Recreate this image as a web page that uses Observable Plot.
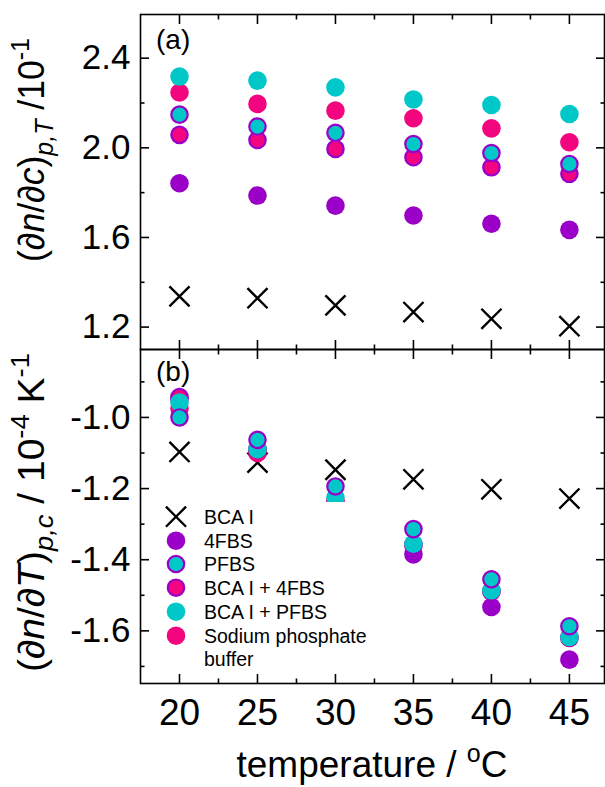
<!DOCTYPE html>
<html><head><meta charset="utf-8">
<script src="https://cdn.jsdelivr.net/npm/d3@7"></script>
<script src="https://cdn.jsdelivr.net/npm/@observablehq/plot@0.6"></script>
<style>
body{margin:0;background:#fff}
#chart{width:605px}
#chart svg{display:block;overflow:visible}
</style>
</head><body><div id="chart"></div>
<script>
const temperatures = [20, 25, 30, 35, 40, 45];
const seriesNames = ["BCA I", "4FBS", "PFBS", "BCA I + 4FBS", "BCA I + PFBS", "Sodium phosphate buffer"];
// panel (a): (dn/dc)_{p,T} / 10^-1
const aBCA = [1.337, 1.329, 1.297, 1.267, 1.237, 1.204];
const a4FBS = [1.842, 1.787, 1.742, 1.698, 1.661, 1.634];
const aPFBS = [2.148, 2.095, 2.067, 2.017, 1.977, 1.928];
const aBCA4FBS = [2.058, 2.035, 1.995, 1.958, 1.913, 1.884];
const aBCAPFBS = [2.318, 2.300, 2.270, 2.216, 2.191, 2.151];
const aBuffer = [2.247, 2.196, 2.166, 2.132, 2.087, 2.025];
// panel (b): (dn/dT)_{p,c} / 10^-4 K^-1
const bBCA = [-1.097, -1.127, -1.147, -1.174, -1.202, -1.228];
const b4FBS = [-0.948, -1.090, -1.260, -1.385, -1.533, -1.681];
const bPFBS = [-1.000, -1.063, -1.194, -1.314, -1.455, -1.587];
const bBCA4FBS = [-0.943, -1.088, -1.240, -1.357, -1.488, -1.619];
const bBCAPFBS = [-0.958, -1.089, -1.225, -1.355, -1.486, -1.617];
const bBuffer = [-0.975, -1.100, -1.235, -1.360, -1.490, -1.620];

const xTicks = [20, 25, 30, 35, 40, 45];
const xMinor = [22.5, 27.5, 32.5, 37.5, 42.5];
const aTicks = [1.2, 1.6, 2.0, 2.4];
const aMinor = [1.4, 1.8, 2.2];
const bTicks = [-1.0, -1.2, -1.4, -1.6];
const bMinor = [-0.9, -1.1, -1.3, -1.5, -1.7];

const PURPLE = "#9a00c8", CYAN = "#00c8c8", PINK = "#f2057f";
const FONT = "'Liberation Sans', Arial, Helvetica, sans-serif";

const styles = {
  "BCA I": {symbol: "times", r: 9.2, fill: "none", stroke: "#000", strokeWidth: 2.4},
  "4FBS": {symbol: "circle", r: 9.3, fill: PURPLE, stroke: "none", strokeWidth: 0},
  "PFBS": {symbol: "circle", r: 8.2, fill: CYAN, stroke: PURPLE, strokeWidth: 2.2},
  "BCA I + 4FBS": {symbol: "circle", r: 8.2, fill: PINK, stroke: PURPLE, strokeWidth: 2.2},
  "BCA I + PFBS": {symbol: "circle", r: 9.3, fill: CYAN, stroke: "none", strokeWidth: 0},
  "Sodium phosphate buffer": {symbol: "circle", r: 9.3, fill: PINK, stroke: "none", strokeWidth: 0}
};
const drawOrder = ["BCA I", "Sodium phosphate buffer", "4FBS", "BCA I + 4FBS", "BCA I + PFBS", "PFBS"];

function table(arrs) {
  const rows = [];
  seriesNames.forEach((s, k) => temperatures.forEach((t, i) => rows.push({series: s, t, v: arrs[k][i]})));
  return rows;
}
const dataA = table([aBCA, a4FBS, aPFBS, aBCA4FBS, aBCAPFBS, aBuffer]);
const dataB = table([bBCA, b4FBS, bPFBS, bBCA4FBS, bBCAPFBS, bBuffer]);

function panel({data, yDomain, yTicks, yMinor, height, marginTop, marginBottom, xLabels}) {
  const blank = () => "";
  const marks = [
    Plot.axisY(yTicks, {anchor: "left", tickSize: 0, tickPadding: 10, fontSize: 35, fill: "#000", tickFormat: d => d.toFixed(1), label: null}),
    Plot.axisY(yTicks, {anchor: "left", tickSize: -9, strokeWidth: 1.6, tickFormat: blank, label: null}),
    Plot.axisY(yMinor, {anchor: "left", tickSize: -4.5, strokeWidth: 1.6, tickFormat: blank, label: null}),
    Plot.axisY(yTicks, {anchor: "right", tickSize: -9, strokeWidth: 1.6, tickFormat: blank, label: null}),
    Plot.axisY(yMinor, {anchor: "right", tickSize: -4.5, strokeWidth: 1.6, tickFormat: blank, label: null}),
    Plot.axisX(xTicks, {anchor: "top", tickSize: -9, strokeWidth: 1.6, tickFormat: blank, label: null}),
    Plot.axisX(xMinor, {anchor: "top", tickSize: -4.5, strokeWidth: 1.6, tickFormat: blank, label: null}),
    Plot.axisX(xTicks, {anchor: "bottom", tickSize: -9, strokeWidth: 1.6, tickFormat: blank, label: null}),
    Plot.axisX(xMinor, {anchor: "bottom", tickSize: -4.5, strokeWidth: 1.6, tickFormat: blank, label: null})
  ];
  if (xLabels) marks.push(Plot.axisX(xTicks, {anchor: "bottom", tickSize: 0, tickPadding: 15, fontSize: 37, fill: "#000", tickFormat: d => String(d), label: null}));
  for (const s of drawOrder) {
    marks.push(Plot.dot(data.filter(d => d.series === s), {x: "t", y: "v", ...styles[s]}));
  }
  marks.push(Plot.frame({stroke: "#000", strokeWidth: 1.6}));
  return Plot.plot({
    width: 605, height, marginLeft: 140, marginRight: 1, marginTop, marginBottom,
    style: {fontFamily: FONT, background: "transparent", color: "#000", overflow: "visible"},
    x: {domain: [17.5, 47.25]},
    y: {domain: yDomain},
    marks
  });
}

const plotA = panel({data: dataA, yDomain: [1.1, 2.595], yTicks: aTicks, yMinor: aMinor, height: 349, marginTop: 14, marginBottom: 0, xLabels: false});
const plotB = panel({data: dataB, yDomain: [-1.748, -0.809], yTicks: bTicks, yMinor: bMinor, height: 438, marginTop: 0, marginBottom: 104, xLabels: true});
document.getElementById("chart").append(plotA, plotB);

function addText(svg, html, attrs) {
  const t = d3.select(svg).append("text").attr("font-family", FONT).attr("fill", "#000").attr("text-anchor", "start");
  for (const k in attrs) t.attr(k, attrs[k]);
  t.html(html);
  return t;
}
// rotated y-axis title fitted to a given vertical span
function yTitle(svg, html, x, y0, y1) {
  const t = addText(svg, html, {"text-anchor": "middle", "font-size": 37});
  const len = t.node().getComputedTextLength() || 1;
  const s = (y1 - y0) / len;
  t.attr("transform", `translate(${x},${(y0 + y1) / 2}) rotate(-90) scale(${s},1)`);
}
addText(plotA, "(a)", {x: 156, y: 49, "font-size": 28});
addText(plotB, "(b)", {x: 156, y: 32, "font-size": 28});

yTitle(plotA,
  '(∂<tspan font-style="italic">n</tspan>/∂<tspan font-style="italic">c</tspan>)' +
  '<tspan font-style="italic" font-size="26" dy="9">p,T</tspan><tspan dy="-9"> /10</tspan>' +
  '<tspan font-size="26" dy="-15">-1</tspan>', 44, 38, 262);

yTitle(plotB,
  '(∂<tspan font-style="italic">n</tspan>/∂<tspan font-style="italic">T</tspan>)' +
  '<tspan font-style="italic" font-size="26" dy="9">p,c</tspan><tspan dy="-9"> / 10</tspan>' +
  '<tspan font-size="26" dy="-15">-4</tspan><tspan dy="15"> K</tspan>' +
  '<tspan font-size="26" dy="-15">-1</tspan>', 44, 353 - 349, 672 - 349);

addText(plotB, 'temperature / <tspan font-size="25" dy="-15">o</tspan><tspan dy="15">C</tspan>',
  {x: 372, y: 428, "text-anchor": "middle", "font-size": 37});

// legend (inside panel b)
const lg = d3.select(plotB).append("g").attr("font-family", FONT).attr("text-anchor", "start");
lg.append("rect").attr("x", 152).attr("y", 153).attr("width", 222).attr("height", 170).attr("fill", "#fff");
const legendRows = [
  ["BCA I", 167.7], ["4FBS", 191.7], ["PFBS", 215], ["BCA I + 4FBS", 238.7], ["BCA I + PFBS", 262.7], ["Sodium phosphate buffer", 286.7]
];
for (const [s, y] of legendRows) {
  const st = styles[s];
  const sym = st.symbol === "times" ? d3.symbolTimes : d3.symbolCircle;
  lg.append("path")
    .attr("transform", `translate(176,${y})`)
    .attr("d", d3.symbol(sym, st.r * st.r * Math.PI)())
    .attr("fill", st.fill).attr("stroke", st.stroke).attr("stroke-width", st.strokeWidth);
  const lines = s === "Sodium phosphate buffer" ? ["Sodium phosphate", "buffer"] : [s];
  lines.forEach((line, j) => {
    lg.append("text").attr("x", 204).attr("y", y + 23.3 * j).attr("dy", "0.35em").attr("font-size", 19.5).attr("fill", "#000").text(line);
  });
}
</script>
</body></html>
